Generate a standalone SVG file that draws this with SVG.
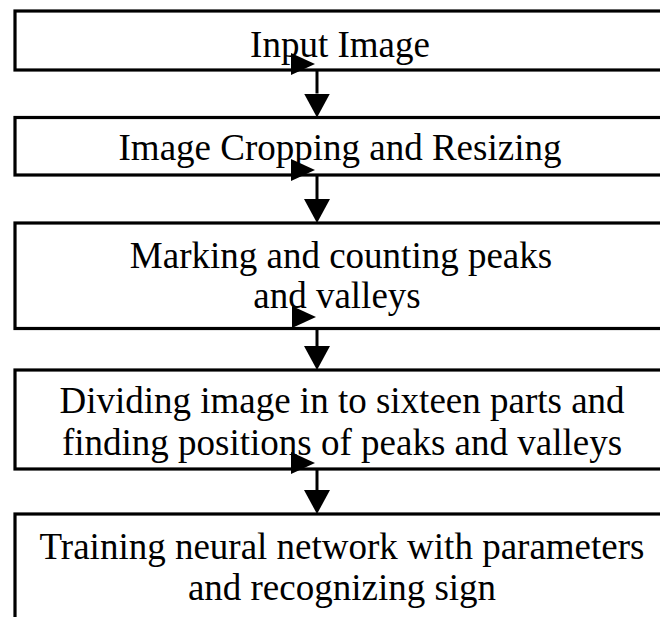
<svg xmlns="http://www.w3.org/2000/svg" width="660" height="617" viewBox="0 0 660 617">
  <style>
    .box { fill: #ffffff; stroke: #000000; stroke-width: 3.2; }
    .lbl { font-family: "Liberation Serif", "Times New Roman", serif; font-size: 37px; fill: #000000; text-anchor: middle; }
    .conn { fill: none; stroke: #000000; stroke-width: 3; }
    .tri { fill: #000000; }
  </style>
  <defs>
    <marker id="head" viewBox="0 0 24 26" refX="0" refY="13" markerWidth="24" markerHeight="26" markerUnits="userSpaceOnUse" orient="auto">
      <path d="M0,0 L24,13 L0,26 Z" fill="#000000"/>
    </marker>
    <polygon id="tail" class="tri" points="0,-11 24,0 0,11"/>
  </defs>
  <rect width="660" height="617" fill="#ffffff"/>

  <g id="input-image">
    <rect class="box" x="15" y="11" width="652" height="59"/>
    <text class="lbl" x="340" y="57">Input Image</text>
  </g>

  <g id="crop-resize">
    <rect class="box" x="15" y="117.5" width="652" height="57.5"/>
    <text class="lbl" x="340" y="160">Image Cropping and Resizing</text>
  </g>

  <g id="peaks-valleys">
    <rect class="box" x="15" y="223" width="652" height="105.5"/>
    <text class="lbl" x="341" y="268">Marking and counting peaks</text>
    <text class="lbl" x="337" y="308">and valleys</text>
  </g>

  <g id="divide-image">
    <rect class="box" x="15" y="370" width="652" height="99"/>
    <text class="lbl" x="342" y="413">Dividing image in to sixteen parts and</text>
    <text class="lbl" x="342" y="455">finding positions of peaks and valleys</text>
  </g>

  <g id="train-network">
    <rect class="box" x="15" y="514" width="652" height="130"/>
    <text class="lbl" x="342" y="559">Training neural network with parameters</text>
    <text class="lbl" x="342" y="600">and recognizing sign</text>
  </g>

  <g id="connectors">
    <path class="conn" d="M317,70 V93.5" marker-end="url(#head)"/>
    <use href="#tail" x="291" y="64"/>
    <path class="conn" d="M317,175 V199" marker-end="url(#head)"/>
    <use href="#tail" x="291" y="170"/>
    <path class="conn" d="M317,328.5 V346" marker-end="url(#head)"/>
    <use href="#tail" x="292" y="317"/>
    <path class="conn" d="M317,469 V490" marker-end="url(#head)"/>
    <use href="#tail" x="291" y="463"/>
  </g>
</svg>
